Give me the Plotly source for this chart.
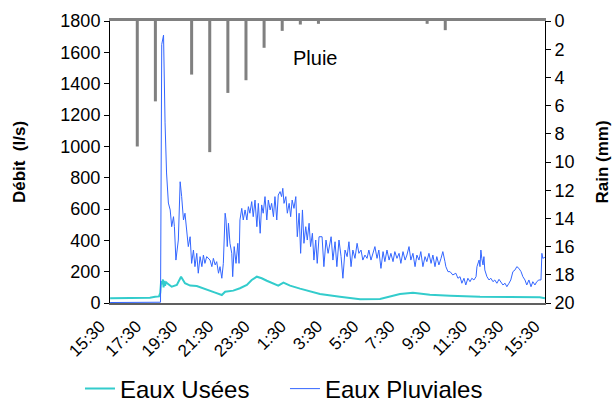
import pandas as pd
import plotly.graph_objects as go

# ---- data (minutes after 15:30 on day 1) ----
usees_min = [0, 66, 132, 149, 162, 166, 169, 172, 175, 177, 180, 182, 185, 188, 195, 204, 221, 235, 248, 265, 287,
             320, 348, 370, 381, 408, 430, 453, 469, 486, 502, 519, 541, 557, 574, 596, 629, 662, 695, 761, 828,
             894, 927, 960, 1003, 1059, 1126, 1225, 1324, 1423, 1440]
usees_val = [30, 32, 33, 40, 42, 64, 140, 120, 150, 100, 142, 110, 135, 128, 115, 104, 115, 168, 126, 111, 108,
             83, 66, 51, 72, 79, 94, 115, 147, 168, 158, 142, 126, 111, 130, 111, 92, 72, 57, 40, 24,
             26, 40, 57, 66, 53, 47, 40, 38, 36, 30]

pluv_min = [0, 33, 66, 99, 132, 167, 171, 177, 182, 187, 193, 199, 204, 210, 213, 218, 226, 232, 237, 243, 248,
            254, 259, 265, 270, 276, 281, 287, 292, 298, 304, 309, 314, 320, 331, 337, 342, 348, 353, 359, 364,
            370, 375, 381, 384, 388, 392, 397, 403, 406, 411, 417, 423, 427, 430, 436, 441, 447, 453, 458, 463,
            469, 474, 480, 486, 491, 497, 502, 507, 513, 519, 524, 530, 535, 541, 546, 552, 557, 563, 568, 572,
            576, 582, 587, 593, 598, 603, 609, 615, 620, 626, 631, 637, 642, 648, 653, 659, 664, 670, 675, 681,
            686, 692, 702, 708, 715, 722, 732, 738, 745, 751, 758, 765, 771, 778, 785, 791, 798, 804, 811, 818,
            824, 831, 837, 844, 851, 857, 864, 871, 877, 884, 890, 897, 904, 910, 917, 924, 930, 937, 943, 950,
            957, 963, 970, 977, 983, 990, 996, 1003, 1010, 1016, 1023, 1029, 1036, 1043, 1049, 1056, 1063, 1069,
            1076, 1082, 1089, 1096, 1102, 1109, 1112, 1119, 1126, 1135, 1145, 1152, 1159, 1165, 1172, 1178, 1185,
            1192, 1198, 1205, 1212, 1215, 1222, 1225, 1228, 1231, 1235, 1238, 1241, 1248, 1255, 1261, 1268, 1274,
            1281, 1288, 1294, 1301, 1308, 1314, 1321, 1327, 1334, 1341, 1347, 1354, 1361, 1367, 1374, 1380, 1387,
            1394, 1400, 1407, 1413, 1420, 1427, 1430, 1433, 1440]
pluv_val = [3, 4, 2, 5, 3, 5, 1650, 1710, 1150, 830, 638, 594, 487, 551, 487, 274, 402, 774, 679, 530, 573,
            445, 360, 423, 253, 338, 232, 317, 190, 296, 232, 306, 253, 296, 274, 232, 285, 243, 264, 190, 232,
            158, 253, 573, 530, 360, 509, 381, 317, 168, 360, 253, 381, 253, 530, 604, 530, 594, 530, 615, 573,
            647, 551, 657, 487, 636, 445, 626, 573, 679, 530, 657, 594, 636, 551, 679, 530, 689, 711, 679, 732,
            636, 679, 573, 636, 551, 657, 604, 679, 423, 573, 317, 594, 381, 487, 402, 509, 360, 445, 274, 402,
            253, 423, 423, 232, 402, 317, 423, 274, 391, 232, 402, 296, 158, 338, 296, 391, 232, 338, 285, 381,
            317, 338, 274, 306, 285, 338, 274, 317, 360, 285, 338, 221, 328, 264, 338, 274, 317, 264, 328, 285,
            317, 253, 328, 274, 306, 360, 274, 317, 232, 306, 274, 328, 232, 296, 264, 317, 253, 306,
            232, 296, 243, 285, 328, 264, 232, 200, 200, 179, 190, 158, 168, 126, 158, 115, 158,
            136, 158, 147, 168, 232, 274, 232, 338, 285, 243, 296, 211, 168, 147, 158, 136, 147,
            126, 151, 136, 115, 126, 104, 126, 147, 200, 211, 232, 221, 200, 168, 147, 115, 147,
            104, 136, 115, 136, 147, 147, 317, 285, 292]

rain_min = [90, 150, 270, 330, 390, 450, 510, 570, 630, 690, 1050, 1110]
rain_mm = [8.9, 5.7, 3.8, 9.3, 5.1, 4.2, 1.9, 0.7, 0.25, 0.2, 0.2, 0.65]

tick_hours = [0, 2, 4, 6, 8, 10, 12, 14, 16, 18, 20, 22, 24]
tick_labels = ["15:30", "17:30", "19:30", "21:30", "23:30", "1:30", "3:30", "5:30", "7:30", "9:30",
               "11:30", "13:30", "15:30"]

base = pd.Timestamp("2000-01-01 15:30")
def to_time(mins):
    return base + pd.to_timedelta(mins, unit="min")

FONT = "Liberation Sans, Arial, sans-serif"

fig = go.Figure()
fig.add_trace(go.Bar(x=to_time(rain_min), y=rain_mm, xaxis="x2", yaxis="y2",
                     marker=dict(color="#808080", line=dict(width=0)), width=600000,
                     showlegend=False, hoverinfo="skip"))
fig.add_trace(go.Scatter(x=to_time(usees_min), y=usees_val, mode="lines", name="Eaux Usées",
                         line=dict(color="#33CCCC", width=2)))
fig.add_trace(go.Scatter(x=to_time(pluv_min), y=pluv_val, mode="lines", name="Eaux Pluviales",
                         line=dict(color="#3366FF", width=1)))

xr = [base - pd.Timedelta(seconds=20), base + pd.Timedelta(hours=24, seconds=20)]
tickvals = [base + pd.Timedelta(hours=h) for h in tick_hours]

fig.update_layout(
    width=616, height=403,
    margin=dict(l=110, r=71, t=21, b=100, autoexpand=False),
    paper_bgcolor="white", plot_bgcolor="white",
    font=dict(family=FONT, size=18, color="black"),
    barmode="overlay",
    xaxis=dict(type="date", range=xr, tickvals=tickvals, ticktext=tick_labels, tickangle=-45,
               ticks="", showgrid=False, zeroline=False, showline=True, linecolor="#606060",
               linewidth=1.5, ticklabelshift=-10, ticklabelstandoff=5, automargin=False,
               tickfont=dict(size=17)),
    xaxis2=dict(type="date", overlaying="x", matches="x", side="top", anchor="y2",
                showticklabels=False, ticks="", showgrid=False, zeroline=False,
                showline=True, linecolor="#808080", linewidth=2.5),
    yaxis=dict(range=[0, 1800], dtick=200, ticks="outside", ticklen=5, tickcolor="black",
               showgrid=False, zeroline=False, showline=True, linecolor="black", linewidth=1,
               automargin=False,
               title=dict(text="<b>Débit  (l/s)</b>", font=dict(size=17), standoff=30)),
    yaxis2=dict(range=[20, 0], dtick=2, overlaying="y", side="right", anchor="x",
                ticks="outside", ticklen=5, tickcolor="black", showgrid=False, zeroline=False,
                showline=True, linecolor="black", linewidth=1, automargin=False,
                title=dict(text="<b>Rain (mm)</b>", font=dict(size=17), standoff=22)),
    legend=dict(orientation="h", x=-0.069, xanchor="left", y=-0.305, yanchor="middle",
                font=dict(size=24), bgcolor="rgba(0,0,0,0)", entrywidth=160),
    showlegend=True,
)
fig.add_annotation(x=base + pd.Timedelta(minutes=600), y=2.6, xref="x", yref="y2",
                   text="Pluie", showarrow=False, xanchor="left", yanchor="middle",
                   font=dict(size=20))

fig.write_html("out.html")
